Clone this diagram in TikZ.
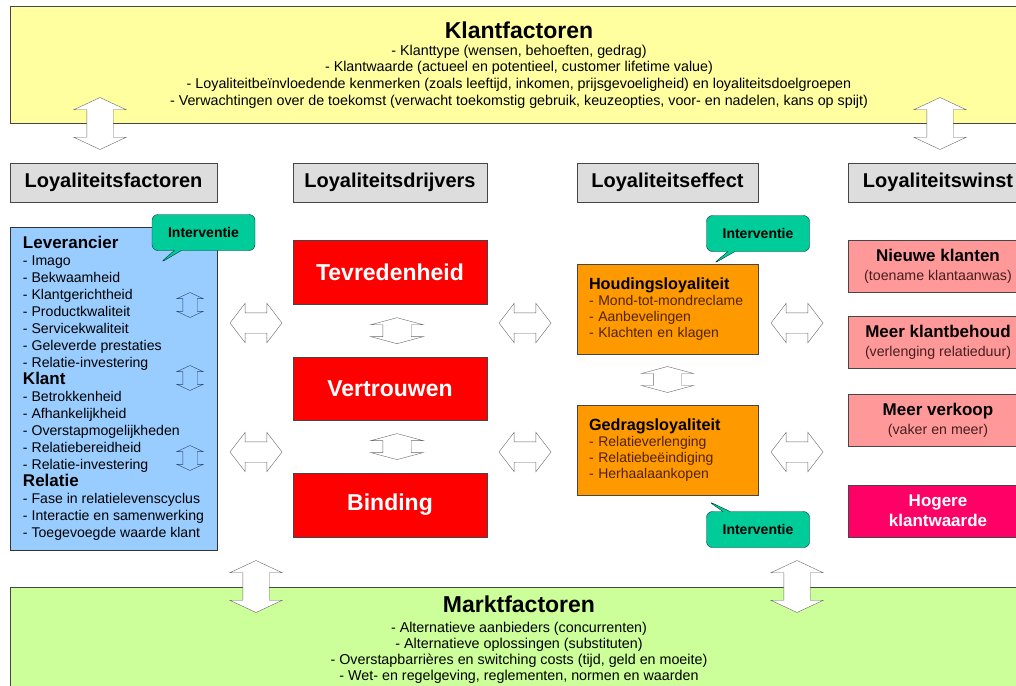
\documentclass[tikz,border=0pt]{standalone}
\usepackage{fontspec}
\setmainfont{Liberation Sans}
\usepackage{tikz}
\usetikzlibrary{shapes.arrows, shapes.callouts, positioning, calc}
\definecolor{klantyellow}{RGB}{255,255,160}
\definecolor{marktgreen}{RGB}{204,255,153}
\definecolor{factblue}{RGB}{153,204,255}
\definecolor{hdrgrey}{RGB}{221,221,221}
\definecolor{drivred}{RGB}{255,0,0}
\definecolor{effectorange}{RGB}{255,153,0}
\definecolor{winstpink}{RGB}{255,153,153}
\definecolor{winstmagenta}{RGB}{255,0,102}
\definecolor{callteal}{RGB}{0,204,153}
\definecolor{linegrey}{RGB}{70,70,70}
\definecolor{arrowgrey}{RGB}{105,105,105}
\definecolor{arrowblue}{RGB}{40,70,120}
\definecolor{itembrown}{RGB}{80,35,0}
\definecolor{subred}{RGB}{70,30,30}
\newcommand\kop[1]{{\fontsize{17}{17}\selectfont\bfseries #1}}
\tikzset{
  bigbox/.style={rectangle, draw=linegrey, line width=1pt, minimum width=1018,
    align=center, font=\fontsize{14.3}{16.8}\selectfont},
  hdr/.style={rectangle, draw=linegrey, fill=hdrgrey, minimum height=39,
    inner sep=0, font=\fontsize{20}{24}\selectfont\bfseries},
  factbox/.style={rectangle, draw=black!80, fill=factblue, minimum height=323,
    minimum width=207, inner sep=0, align=left,
    font=\fontsize{14.1}{17}\selectfont,
    execute at begin node={\lineskiplimit=-20pt}},
  drijver/.style={rectangle, draw=linegrey, fill=drivred, text=white,
    minimum width=194, minimum height=64, inner sep=0,
    font=\fontsize{23}{26}\selectfont\bfseries},
  effect/.style={rectangle, draw=linegrey, fill=effectorange, minimum height=90,
    text width=157, inner xsep=12, align=left,
    font=\fontsize{14}{16}\selectfont,
    execute at begin node={\lineskiplimit=-20pt}},
  winst/.style={rectangle, draw=linegrey, fill=winstpink, minimum width=180,
    minimum height=52, inner sep=0, align=center,
    font=\fontsize{14.2}{19}\selectfont},
  intervent/.style={rectangle callout, draw=teal!40!black, fill=callteal,
    rounded corners=6pt, minimum width=103, minimum height=36, inner sep=0,
    font=\fontsize{14}{16}\selectfont\bfseries},
  vbig/.style={double arrow, rotate=90, draw=arrowgrey, fill=white, inner sep=0,
    inner ysep=13, double arrow head extend=13, double arrow tip angle=130,
    minimum height=52},
  hdbl/.style={double arrow, draw=arrowgrey, fill=white, inner sep=0,
    inner ysep=10, double arrow head extend=9.5, double arrow tip angle=105,
    minimum height=52},
  idbl/.style={double arrow, rotate=90, draw=arrowgrey, fill=white, inner sep=0,
    inner ysep=14, double arrow head extend=12, double arrow tip angle=150,
    minimum height=26},
  sdbl/.style={double arrow, rotate=90, draw=arrowblue, inner sep=0,
    inner ysep=7, double arrow head extend=6, double arrow tip angle=130,
    minimum height=25}
}
\begin{document}
\begin{tikzpicture}[x=1pt, y=-1pt]
  \useasboundingbox (0,0) rectangle (1016,685);
  \clip (0,0) rectangle (1016,685);

  % Klantfactoren box
  \node[bigbox, fill=klantyellow, minimum height=116] (klant) at (519,65) {
    {\fontsize{23}{26}\selectfont\bfseries Klantfactoren}\\[0pt]
    - Klanttype (wensen, behoeften, gedrag)\\
    - Klantwaarde (actueel en potentieel, customer lifetime value)\\
    - Loyaliteitbeïnvloedende kenmerken (zoals leeftijd, inkomen, prijsgevoeligheid) en loyaliteitsdoelgroepen\\
    - Verwachtingen over de toekomst (verwacht toekomstig gebruik, keuzeopties, voor- en nadelen, kans op spijt)
  };

  % Marktfactoren box
  \node[bigbox, fill=marktgreen, minimum height=106, font=\fontsize{14.3}{16}\selectfont] (markt) at (519,640) {
    {\fontsize{23}{26}\selectfont\bfseries Marktfactoren}\\[4pt]
    - Alternatieve aanbieders (concurrenten)\\
    - Alternatieve oplossingen (substituten)\\
    - Overstapbarrières en switching costs (tijd, geld en moeite)\\
    - Wet- en regelgeving, reglementen, normen en waarden
  };

  % Column headers
  \node[hdr, minimum width=207] (hdrFactoren) at (113.5,182.5) {Loyaliteitsfactoren};
  \node[hdr, minimum width=194] (hdrDrijvers) at (390,182.5) {Loyaliteitsdrijvers};
  \node[hdr, minimum width=181] (hdrEffect) at (667.5,182.5) {Loyaliteitseffect};
  \node[hdr, minimum width=180] (hdrWinst) at (938,182.5) {Loyaliteitswinst};

  % Loyaliteitsfactoren
  \node[factbox] (factoren) at (113.5,388.5) {
    \kop{Leverancier}\\
    - Imago\\
    - Bekwaamheid\\
    - Klantgerichtheid\\
    - Productkwaliteit\\
    - Servicekwaliteit\\
    - Geleverde prestaties\\
    - Relatie-investering\\
    \kop{Klant}\\
    - Betrokkenheid\\
    - Afhankelijkheid\\
    - Overstapmogelijkheden\\
    - Relatiebereidheid\\
    - Relatie-investering\\
    \kop{Relatie}\\
    - Fase in relatielevenscyclus\\
    - Interactie en samenwerking\\
    - Toegevoegde waarde klant
  };
  \node[sdbl] (sLevKlant) at (190,305) {};
  \node[sdbl] (sKlant) at (190,378) {};
  \node[sdbl] (sKlantRel) at (190,458) {};

  % Loyaliteitsdrijvers
  \node[drijver] (tevred) at (390,272) {Tevredenheid};
  \node[drijver, below=53pt of tevred, minimum height=63] (vertrouwen) {Vertrouwen};
  \node[drijver, below=52pt of vertrouwen] (binding) {Binding};
  \node[idbl] (arrTevVer) at ($(tevred.south)!0.5!(vertrouwen.north)+(7pt,0)$) {};
  \node[idbl] (arrVerBin) at ($(vertrouwen.south)!0.5!(binding.north)+(7pt,0)$) {};

  % Loyaliteitseffect
  \node[effect] (houding) at (667.5,309) {
    {\fontsize{16.2}{16}\selectfont\bfseries Houdingsloyaliteit}\\
    \textcolor{itembrown}{- Mond-tot-mondreclame}\\
    \textcolor{itembrown}{- Aanbevelingen}\\
    \textcolor{itembrown}{- Klachten en klagen}
  };
  \node[effect] (gedrag) at (667.5,450) {
    {\fontsize{16.2}{16}\selectfont\bfseries Gedragsloyaliteit}\\
    \textcolor{itembrown}{- Relatieverlenging}\\
    \textcolor{itembrown}{- Relatiebeëindiging}\\
    \textcolor{itembrown}{- Herhaalaankopen}
  };
  \node[idbl] (arrHouGed) at ($(houding.south)!0.5!(gedrag.north)$) {};

  % Loyaliteitswinst
  \node[winst] (nieuw) at (938,266) {{\fontsize{17}{19}\selectfont\bfseries Nieuwe klanten}\\\textcolor{subred}{(toename klantaanwas)}};
  \node[winst] (behoud) at (938,342.5) {{\fontsize{17}{19}\selectfont\bfseries Meer klantbehoud}\\\textcolor{subred}{(verlenging relatieduur)}};
  \node[winst] (verkoop) at (938,420.5) {{\fontsize{17}{19}\selectfont\bfseries Meer verkoop}\\\textcolor{subred}{(vaker en meer)}};
  \node[winst, fill=winstmagenta, text=white, font=\fontsize{17}{20}\selectfont\bfseries] (waarde) at (938,511) {Hogere\\klantwaarde};

  % Arrows between the columns
  \node[hdbl] (arrFacDri1) at (256,323) {};
  \node[hdbl] (arrFacDri2) at (256,452) {};
  \node[hdbl] (arrDriEff1) at (525,323) {};
  \node[hdbl] (arrDriEff2) at (525,452) {};
  \node[hdbl] (arrEffWin1) at (797,323) {};
  \node[hdbl] (arrEffWin2) at (797,452) {};

  % Arrows to Klantfactoren and Marktfactoren
  \node[vbig] (arrKlant1) at (100,0 |- klant.south) {};
  \node[vbig] (arrKlant2) at (940,0 |- klant.south) {};
  \node[vbig] (arrMarkt1) at (256,0 |- markt.north) {};
  \node[vbig] (arrMarkt2) at (797,0 |- markt.north) {};

  % Interventie callouts
  \node[intervent, callout absolute pointer={(160,263)}] (intervFact) at (203.5,232.5) {Interventie};
  \node[intervent, callout absolute pointer={(713,264)}] (intervHoud) at (758,233.5) {Interventie};
  \node[intervent, callout absolute pointer={(708,501)}] (intervGedr) at (758,529.5) {Interventie};
\end{tikzpicture}
\end{document}
